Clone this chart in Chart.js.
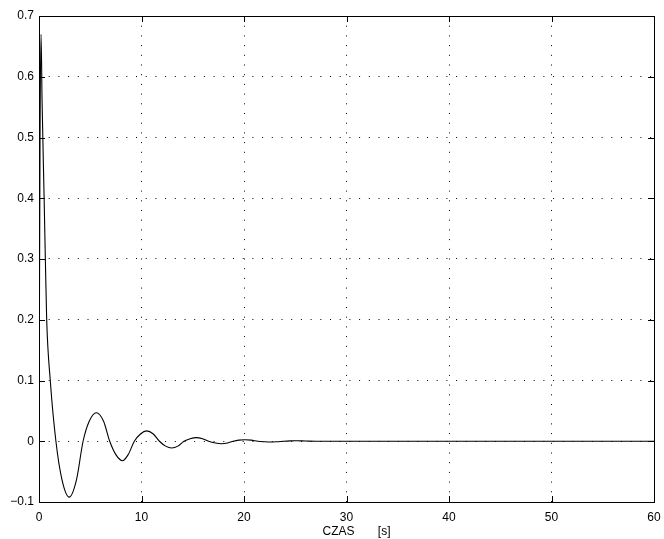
<!DOCTYPE html>
<html>
<head>
<meta charset="utf-8">
<script src="https://cdn.jsdelivr.net/npm/chart.js@4/dist/chart.umd.min.js"></script>
<style>
  html, body { margin: 0; padding: 0; background: #fff; }
  #wrap { width: 664px; height: 539px; }
</style>
</head>
<body>
<div id="wrap"><canvas id="odpowiedz" width="664" height="539"></canvas></div>
<script>
// czas [s] i wartosc odpowiedzi
const czas = [0, 0.1, 0.2, 0.3, 0.5, 0.62, 0.75, 1.1, 1.65, 2.25, 2.95, 3.65, 4.3, 4.9, 5.6, 6.3, 6.9, 7.5, 8.15, 8.7, 9.3, 9.9, 10.5, 11.15, 11.75, 12.35, 12.95, 13.55, 14.15, 14.75, 15.35, 15.95, 16.55, 17.2, 17.8, 18.4, 18.95, 19.5, 20.1, 20.7, 21.35, 22.0, 22.6, 23.2, 23.85, 24.5, 25.1, 26.0, 27.0, 30.0, 40.0, 50.0, 60.0];
const odpowiedz = [0, 0.50, 0.67, 0.56, 0.40, 0.30, 0.20, 0.10, 0.0, -0.064, -0.092, -0.064, 0.0, 0.033, 0.047, 0.033, 0.0, -0.022, -0.032, -0.022, 0.0, 0.012, 0.017, 0.012, 0.0, -0.008, -0.011, -0.008, 0.0, 0.0042, 0.006, 0.0042, 0.0, -0.0028, -0.004, -0.0028, 0.0, 0.0018, 0.0025, 0.0018, 0.0, -0.0008, -0.0012, -0.0008, 0.0, 0.0006, 0.0008, 0.0004, 0.0, 0.0, 0.0, 0.0, 0.0];

const xTicks = [0, 10, 20, 30, 40, 50, 60];
const yTicks = [-0.1, 0, 0.1, 0.2, 0.3, 0.4, 0.5, 0.6, 0.7];
const yTickLabels = ['\u22120.1', '0', '0.1', '0.2', '0.3', '0.4', '0.5', '0.6', '0.7'];
const xLabel = '      CZAS       [s]';

const font = { family: "'Liberation Sans', Arial, sans-serif", size: 12 };

// ramka i krotkie kreski podzialki do srodka (jak w matlabie)
const ramka = {
    id: 'ramka',
    afterDatasetsDraw(chart) {
        const { ctx, chartArea: a, scales } = chart;
        ctx.save();
        ctx.strokeStyle = '#000';
        ctx.lineWidth = 1;
        ctx.strokeRect(Math.round(a.left) + 0.5, Math.round(a.top) + 0.5,
            Math.round(a.right - a.left), Math.round(a.bottom - a.top));
        ctx.beginPath();
        const len = 6;
        xTicks.forEach(v => {
            const px = Math.round(scales.x.getPixelForValue(v)) + 0.5;
            ctx.moveTo(px, a.bottom); ctx.lineTo(px, a.bottom - len);
            ctx.moveTo(px, a.top); ctx.lineTo(px, a.top + len);
        });
        yTicks.forEach(v => {
            const py = Math.round(scales.y.getPixelForValue(v)) + 0.5;
            ctx.moveTo(a.left, py); ctx.lineTo(a.left + len, py);
            ctx.moveTo(a.right, py); ctx.lineTo(a.right - len, py);
        });
        ctx.stroke();
        ctx.restore();
    }
};

new Chart(document.getElementById('odpowiedz'), {
    type: 'line',
    data: {
        datasets: [{
            data: czas.map((t, i) => ({ x: t, y: odpowiedz[i] })),
            borderColor: '#000',
            borderWidth: 1.1,
            pointRadius: 0,
            fill: false,
            cubicInterpolationMode: 'monotone'
        }]
    },
    options: {
        responsive: false,
        animation: false,
        layout: { padding: { left: 0, top: 16, right: 10, bottom: 0 } },
        plugins: { legend: { display: false }, tooltip: { enabled: false } },
        scales: {
            x: {
                type: 'linear',
                min: 0, max: 60,
                afterFit: s => { s.height = 37; s.paddingLeft = 0; s.paddingRight = 0; },
                afterBuildTicks: s => { s.ticks = xTicks.map(v => ({ value: v })); },
                ticks: { color: '#000', font: font, padding: 8, maxRotation: 0, callback: v => String(v) },
                grid: { color: '#000', lineWidth: 1, drawTicks: false },
                border: { display: false, dash: [1, 8.7] },
                title: { display: true, text: xLabel, color: '#000', font: font, padding: { top: 0, bottom: 0 } }
            },
            y: {
                min: -0.1, max: 0.7,
                afterFit: s => { s.width = 39; s.paddingTop = 0; s.paddingBottom = 0; },
                afterBuildTicks: s => { s.ticks = yTicks.map(v => ({ value: v })); },
                ticks: { color: '#000', font: font, padding: 5,
                    callback: (v, i) => yTickLabels[i] },
                grid: { color: '#000', lineWidth: 1, drawTicks: false },
                border: { display: false, dash: [1, 8.7] }
            }
        }
    },
    plugins: [ramka]
});
</script>
</body>
</html>
